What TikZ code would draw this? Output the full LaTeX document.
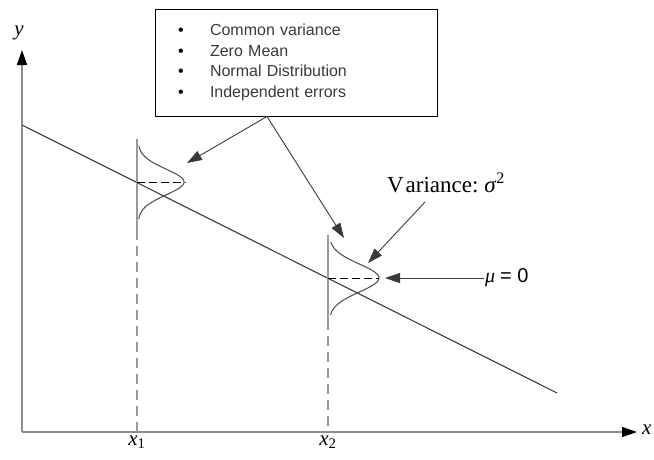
\documentclass[tikz,border=0pt]{standalone}
\usepackage{fontspec}
\setmainfont{Liberation Serif}
\newfontfamily\arialfont{Liberation Sans}
\usepackage{tikz}
\usetikzlibrary{arrows.meta,positioning,calc}
\definecolor{axisgray}{HTML}{8C8C8C}
\definecolor{bargray}{HTML}{999999}
\definecolor{ink}{HTML}{3A3A3A}
\definecolor{curvegray}{HTML}{555555}
\tikzset{
  axisline/.style={
    draw=axisgray, line width=1.6pt,
    -{Triangle[length=15pt,width=10pt,black]}
  },
  fitline/.style={draw=ink, line width=1.1pt},
  errbar/.style={draw=bargray, line width=2pt},
  guideline/.style={draw=bargray, line width=1.5pt, dash pattern=on 10pt off 6pt},
  meanline/.style={draw=black, line width=1pt, dash pattern=on 8pt off 4pt},
  bell/.style={draw=curvegray, line width=1.1pt},
  pointer/.style={
    draw=ink, line width=0.9pt,
    -{Triangle[length=15pt,width=10pt]}
  },
  notebox/.style={
    rectangle, draw=black, line width=1pt, fill=white,
    minimum width=282pt, minimum height=107pt,
    text width=236pt, inner xsep=23pt, align=left,
    font=\arialfont\fontsize{16}{20.5}\selectfont, text=ink
  },
  mathlbl/.style={font=\fontsize{21}{24}\selectfont, inner sep=1pt},
  varlbl/.style={font=\fontsize{23}{26}\selectfont, inner sep=1pt},
  mulbl/.style={font=\fontsize{20}{22}\selectfont, inner sep=1pt},
}

\begin{document}
\begin{tikzpicture}[x=1pt, y=-1pt]
  \useasboundingbox (0,0) rectangle (654,459);

  % Axes
  \coordinate (O) at (22,432);
  \coordinate (ytop) at (22,50);
  \coordinate (xend) at (637,432);
  \draw[axisline] (O) -- (ytop);
  \draw[axisline] (O) -- (xend);
  \node[mathlbl] (ylbl) at (19,33) {\textit{y}};
  \node[mathlbl, anchor=west] (xlbl) at (641,430) {\textit{x}};

  % Regression line
  \coordinate (L0) at (22,125);
  \coordinate (L1) at (557,393);
  \draw[fitline] (L0) -- (L1);

  % Distribution at x1
  \coordinate (b1top) at (137,139);
  \coordinate (b1bot) at (137,230);
  \coordinate (m1) at (137,182);
  \coordinate (p1) at (186,182);
  \draw[guideline] (b1bot) -- (b1bot |- O);
  \draw[errbar] (b1top) -- (b1bot);
  \draw[bell] plot[domain=-36:37, samples=60, smooth]
    ({138+46*exp(-(\x*\x)/338)}, {182+\x});
  \draw[meanline] (m1) -- (p1);
  \node[mathlbl, anchor=north] (x1lbl) at ([yshift=-3pt]b1bot |- O) {\textit{x}\textsubscript{1}};

  % Distribution at x2
  \coordinate (b2top) at (328,235);
  \coordinate (b2bot) at (328,320);
  \coordinate (m2) at (328,278);
  \coordinate (p2) at (379,278);
  \draw[guideline] (b2bot) -- (b2bot |- O);
  \draw[errbar] (b2top) -- (b2bot);
  \draw[bell] plot[domain=-36:37, samples=60, smooth]
    ({329+50*exp(-(\x*\x)/392)}, {278+\x});
  \draw[meanline] (m2) -- (p2);
  \node[mathlbl, anchor=north] (x2lbl) at ([yshift=-3pt]b2bot |- O) {\textit{x}\textsubscript{2}};

  % Assumptions
  \node[notebox] (assume) at (296,62.5) {%
    \makebox[32pt][l]{\textcolor{black}{\textbullet}}Common variance\\
    \makebox[32pt][l]{\textcolor{black}{\textbullet}}Zero Mean\\
    \makebox[32pt][l]{\textcolor{black}{\textbullet}}Normal Distribution\\
    \makebox[32pt][l]{\textcolor{black}{\textbullet}}Independent errors};
  \coordinate (fork) at ([xshift=-29pt]assume.south);
  \coordinate (tip1) at (187,163);
  \coordinate (tip2) at (344,238);
  \draw[pointer] (fork) -- (tip1);
  \draw[pointer] (fork) -- (tip2);

  % Variance and mean labels
  \node[varlbl] (var) at (446,183) {V\kern2pt ariance:\ \textit{σ}\textsuperscript{2}};
  \coordinate (varfoot) at (425,202);
  \coordinate (vartip) at (368,263);
  \draw[pointer] (varfoot) -- (vartip);
  \node[mulbl, anchor=west] (mu) at (484,278) {\textit{μ} {\arialfont = 0}};
  \coordinate (mutip) at (385,278);
  \draw[pointer] (mu.west) -- (mutip);
\end{tikzpicture}
\end{document}
